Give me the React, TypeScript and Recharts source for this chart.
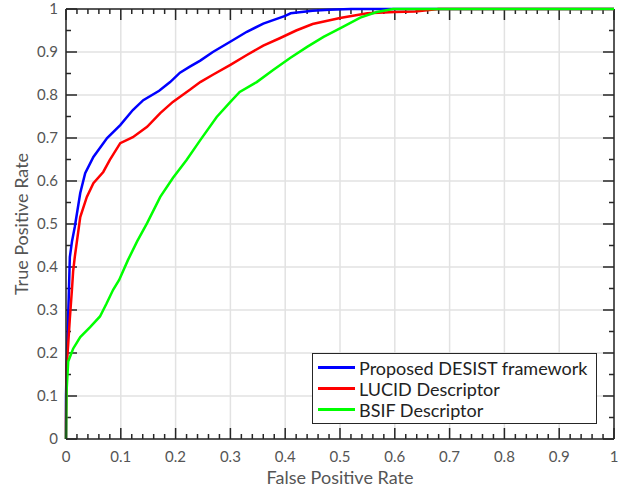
import React from "react";
import {
  CartesianGrid,
  Legend,
  Line,
  LineChart,
  ReferenceLine,
  XAxis,
  YAxis,
} from "recharts";

// ROC curves, values
const desistFpr = [0, 0, 0.001, 0.003, 0.005, 0.007, 0.011, 0.016, 0.026, 0.035, 0.05, 0.075, 0.099, 0.122, 0.141, 0.17, 0.19, 0.208, 0.226, 0.245, 0.268, 0.305, 0.33, 0.36, 0.4, 0.41, 0.45, 0.48, 0.52, 0.7, 1];
const desistTpr = [0, 0.1, 0.16, 0.25, 0.33, 0.423, 0.46, 0.493, 0.572, 0.618, 0.656, 0.7, 0.73, 0.765, 0.788, 0.81, 0.83, 0.852, 0.866, 0.88, 0.9, 0.928, 0.947, 0.966, 0.984, 0.99, 0.996, 0.998, 1, 1, 1];

const lucidFpr = [0, 0, 0.001, 0.004, 0.007, 0.011, 0.013, 0.016, 0.026, 0.038, 0.05, 0.068, 0.08, 0.099, 0.122, 0.148, 0.172, 0.195, 0.226, 0.245, 0.268, 0.3, 0.33, 0.36, 0.39, 0.42, 0.45, 0.5, 0.55, 0.6, 0.637, 0.68, 1];
const lucidTpr = [0, 0.04, 0.17, 0.22, 0.28, 0.35, 0.39, 0.423, 0.516, 0.563, 0.595, 0.621, 0.649, 0.688, 0.702, 0.726, 0.758, 0.784, 0.812, 0.83, 0.847, 0.87, 0.893, 0.915, 0.932, 0.95, 0.965, 0.979, 0.99, 0.993, 0.994, 1, 1];

const bsifFpr = [0, 0.001, 0.004, 0.013, 0.026, 0.044, 0.062, 0.074, 0.086, 0.097, 0.113, 0.13, 0.148, 0.172, 0.195, 0.22, 0.245, 0.275, 0.3, 0.317, 0.348, 0.378, 0.409, 0.44, 0.47, 0.5, 0.537, 0.567, 0.597, 1];
const bsifTpr = [0, 0.11, 0.18, 0.21, 0.237, 0.26, 0.285, 0.315, 0.347, 0.37, 0.416, 0.46, 0.502, 0.563, 0.607, 0.649, 0.695, 0.749, 0.784, 0.807, 0.83, 0.858, 0.886, 0.912, 0.935, 0.955, 0.98, 0.993, 1, 1];

const seriesNames = ["Proposed DESIST framework", "LUCID Descriptor", "BSIF Descriptor"];
const seriesColors = ["#0000ff", "#ff0000", "#00ff00"];

const majorTicks = [0, 0.1, 0.2, 0.3, 0.4, 0.5, 0.6, 0.7, 0.8, 0.9, 1];
const xMinorTicks = Array.from({ length: 51 }, (_, i) => i / 50);
const yMinorTicks = Array.from({ length: 21 }, (_, i) => i / 20);

const toPoints = (fpr: number[], tpr: number[]) =>
  fpr.map((x, i) => ({ fpr: x, tpr: tpr[i] }));

const seriesData = [
  toPoints(desistFpr, desistTpr),
  toPoints(lucidFpr, lucidTpr),
  toPoints(bsifFpr, bsifTpr),
];

const AXIS = "#262626";
const TICK_TEXT = "#555555";
const FONT = "Lato, 'Open Sans', sans-serif";

const isMajor = (v: number) => Math.abs(v * 10 - Math.round(v * 10)) < 1e-6;
const fmt = (v: number) => String(Math.round(v * 10) / 10);

// inward tick lengths in data units (plot is 548 x 430 px)
const xTickLen = (v: number) => (isMajor(v) ? 11 / 430 : 5 / 430);
const yTickLen = (v: number) => (isMajor(v) ? 11 / 548 : 5 / 548);

const BottomTick = ({ x, y, payload }: any) => (
  <text x={x} y={y + 23} textAnchor="middle" fill={TICK_TEXT} fontSize={15} fontFamily={FONT}>
    {fmt(payload.value)}
  </text>
);

const LeftTick = ({ x, y, payload }: any) => (
  <text x={x - 8} y={y + 5} textAnchor="end" fill={TICK_TEXT} fontSize={15} fontFamily={FONT}>
    {fmt(payload.value)}
  </text>
);

const renderLegend = () => (
  <div
    style={{
      border: `1.5px solid ${AXIS}`,
      background: "#fff",
      padding: "3px 6px 3px 5px",
      fontFamily: FONT,
      fontSize: 18,
      color: "#222",
      width: 272,
    }}
  >
    {seriesNames.map((name, i) => (
      <div key={name} style={{ display: "flex", alignItems: "center", height: 21 }}>
        <span style={{ width: 37, height: 3, background: seriesColors[i], marginRight: 4 }} />
        <span>{name}</span>
      </div>
    ))}
  </div>
);

const tickStyle = { stroke: AXIS, strokeWidth: 1.5 };

export default function App() {
  return (
    <div style={{ position: "absolute", left: 0, top: 0, fontFamily: FONT }}>
      <LineChart width={629} height={488} margin={{ top: 9, right: 15, left: 0, bottom: 0 }}>
        <CartesianGrid
          stroke="#e2e2e2"
          strokeWidth={1.5}
          verticalValues={majorTicks}
          horizontalValues={majorTicks}
        />
        <XAxis
          type="number"
          dataKey="fpr"
          domain={[0, 1]}
          ticks={majorTicks}
          interval={0}
          tickSize={0}
          tickMargin={0}
          tickLine={false}
          tick={BottomTick}
          height={49}
          stroke={AXIS}
          strokeWidth={1.5}
          label={{ value: "False Positive Rate", position: "insideBottom", offset: 4, fill: TICK_TEXT, fontSize: 18 }}
        />
        <YAxis
          type="number"
          domain={[0, 1]}
          ticks={majorTicks}
          interval={0}
          tickSize={0}
          tickMargin={0}
          tickLine={false}
          tick={LeftTick}
          width={66}
          stroke={AXIS}
          strokeWidth={1.5}
          label={{ value: "True Positive Rate", angle: -90, position: "center", dx: -11, fill: TICK_TEXT, fontSize: 18 }}
        />
        {/* top and right frame */}
        <ReferenceLine y={1} {...tickStyle} />
        <ReferenceLine x={1} {...tickStyle} />
        {/* inward ticks on all four sides */}
        {xMinorTicks.map((v) => (
          <ReferenceLine key={`b${v}`} segment={[{ x: v, y: 0 }, { x: v, y: xTickLen(v) }]} {...tickStyle} />
        ))}
        {xMinorTicks.map((v) => (
          <ReferenceLine key={`t${v}`} segment={[{ x: v, y: 1 }, { x: v, y: 1 - xTickLen(v) }]} {...tickStyle} />
        ))}
        {yMinorTicks.map((v) => (
          <ReferenceLine key={`l${v}`} segment={[{ x: 0, y: v }, { x: yTickLen(v), y: v }]} {...tickStyle} />
        ))}
        {yMinorTicks.map((v) => (
          <ReferenceLine key={`r${v}`} segment={[{ x: 1, y: v }, { x: 1 - yTickLen(v), y: v }]} {...tickStyle} />
        ))}
        {seriesData.map((data, i) => (
          <Line
            key={seriesNames[i]}
            data={data}
            dataKey="tpr"
            name={seriesNames[i]}
            type="linear"
            stroke={seriesColors[i]}
            strokeWidth={2.5}
            dot={false}
            isAnimationActive={false}
          />
        ))}
        <Legend
          layout="vertical"
          align="center"
          verticalAlign="middle"
          content={renderLegend}
          wrapperStyle={{ left: 312, top: 353, width: 285 }}
        />
      </LineChart>
    </div>
  );
}
